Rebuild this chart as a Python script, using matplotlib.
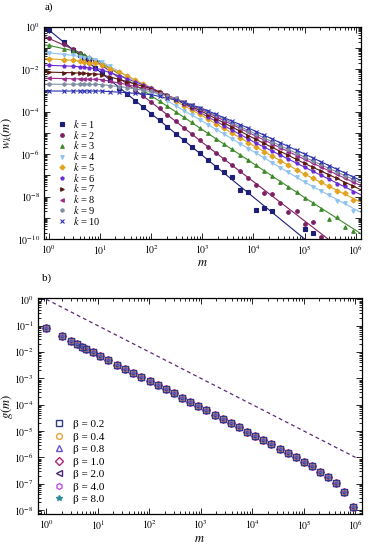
import numpy as np
import matplotlib
matplotlib.use("Agg")
import matplotlib.pyplot as plt
from matplotlib.ticker import LogLocator, FixedLocator, FuncFormatter, NullFormatter

plt.rcParams['font.family'] = ['Liberation Serif', 'DejaVu Serif']
plt.rcParams['mathtext.fontset'] = 'stix'

nan = np.nan

# ---- panel a) : simulation points (log10 of w_k) on the binned m grid ----
m_pts = [1, 2, 3, 4, 5, 6, 8, 11, 16, 24, 34, 49, 70, 101, 146, 209, 301, 432, 621, 892,
         1282, 1843, 2649, 3806, 5470, 7862, 11298, 16238, 23335, 33535, 48195, 69263,
         99540, 143050, 205589, 295461, 424620, 610250, 877000]

w1_pts = [-0.15, -0.74, -1.09, -1.34, -1.53, -1.68, -1.93, -2.20, -2.51, -2.87, -3.16, -3.48, -3.79,
          -4.09, -4.41, -4.72, -5.04, -5.35, -5.65, -5.96, -6.28, -6.59, -6.85, -7.1, -7.7, -7.78,
          -8.63, -8.55, -8.66, nan, nan, nan, -9.55, -9.73, nan, nan, nan, nan, nan]
w2_pts = [-0.55, -0.83, -1.06, -1.23, -1.36, -1.46, -1.62, -1.82, -2.11, -2.43, -2.70, -2.99, -3.28,
          -3.55, -3.85, -4.16, -4.46, -4.77, -5.05, -5.36, -5.65, -5.95, -6.23, -6.52, -6.82, -7.12,
          -7.45, -7.85, -7.9, -8.3, -8.75, -8.7, -9.3, -9.2, -9.9, nan, nan, nan, nan]
w3_pts = [-0.88, -1.04, -1.13, -1.25, -1.35, -1.43, -1.55, -1.71, -1.96, -2.24, -2.49, -2.75, -3.01,
          -3.25, -3.5, -3.75, -4.0, -4.27, -4.51, -4.77, -5.03, -5.28, -5.52, -5.78, -6.03, -6.29,
          -6.53, -6.79, -7.04, -7.3, -7.54, -7.79, -8.05, -8.3, -8.6, -9.05, -8.95, -9.45, -9.6]
w4_pts = [-1.23, -1.31, -1.35, -1.41, -1.46, -1.49, -1.55, -1.65, -1.87, -2.12, -2.33, -2.55, -2.79,
          -3.0, -3.24, -3.48, -3.72, -3.95, -4.16, -4.38, -4.61, -4.85, -5.07, -5.3, -5.52, -5.74,
          -5.95, -6.18, -6.41, -6.64, -6.86, -7.09, -7.32, -7.53, -7.72, -7.93, -8.2, -8.3, -8.7]
w5_pts = [-1.51, -1.55, -1.58, -1.63, -1.66, -1.69, -1.73, -1.81, -1.97, -2.15, -2.31, -2.51, -2.70,
          -2.88, -3.09, -3.3, -3.5, -3.72, -3.92, -4.13, -4.35, -4.58, -4.79, -5.01, -5.24, -5.46,
          -5.67, -5.88, -6.1, -6.32, -6.52, -6.73, -6.95, -7.14, -7.32, -7.51, -7.75, -7.85, -8.15]
w6_pts = [-1.82, -1.85, -1.86, -1.89, -1.92, -1.94, -1.97, -2.03, -2.17, -2.32, -2.45, -2.6, -2.74,
          -2.88, -3.06, -3.24, -3.42, -3.63, -3.83, -4.04, -4.25, -4.46, -4.66, -4.87, -5.08, -5.29,
          -5.48, -5.67, -5.86, -6.06, -6.24, -6.43, -6.62, -6.81, -6.99, -7.17, -7.4, -7.5, -7.8]
w7_pts = [-2.14, -2.16, -2.17, -2.19, -2.2, -2.21, -2.23, -2.27, -2.37, -2.49, -2.59, -2.7, -2.81,
          -2.92, -3.08, -3.24, -3.4, -3.59, -3.76, -3.94, -4.14, -4.34, -4.52, -4.73, -4.93, -5.13,
          -5.31, -5.5, -5.69, -5.88, -6.06, -6.25, -6.44, -6.62, -6.79, -6.97, -7.15, -7.38, -7.5]
w8_pts = [-2.43, -2.44, -2.45, -2.46, -2.46, -2.47, -2.47, -2.5, -2.57, -2.66, -2.73, -2.81, -2.9,
          -2.98, -3.11, -3.25, -3.38, -3.55, -3.7, -3.87, -4.05, -4.24, -4.42, -4.6, -4.79, -4.98,
          -5.16, -5.34, -5.53, -5.71, -5.88, -6.07, -6.25, -6.43, -6.6, -6.78, -6.96, -7.14, -7.31]
w9_pts = [-2.71, -2.71, -2.71, -2.71, -2.71, -2.71, -2.72, -2.73, -2.77, -2.82, -2.87, -2.93, -2.99,
          -3.05, -3.16, -3.27, -3.38, -3.54, -3.68, -3.83, -4.0, -4.18, -4.35, -4.53, -4.71, -4.89,
          -5.06, -5.24, -5.43, -5.61, -5.78, -5.97, -6.15, -6.33, -6.49, -6.67, -6.84, -7.02, -7.18]
w10_pts = [-3.03, -3.03, -3.03, -3.03, -3.03, -3.03, -3.03, -3.04, -3.06, -3.09, -3.11, -3.14, -3.17,
           -3.2, -3.28, -3.37, -3.45, -3.57, -3.69, -3.81, -3.96, -4.13, -4.28, -4.45, -4.61, -4.78,
           -4.94, -5.12, -5.29, -5.47, -5.64, -5.82, -6.0, -6.18, -6.35, -6.54, -6.72, -6.9, -7.07]

# ---- panel a) : theory curves (log10 of w_k) ----
m_line = [0.8, 1, 3, 10, 30, 100, 300, 1e3, 1e4, 1e5, 1.26e6]
w1_line = [0.04, -0.15, -1.09, -2.12, -3.06, -4.09, -5.03, -6.06, -8.03, -10.0, -12.17]
w2_line = [-0.45, -0.55, -1.06, -1.75, -2.6, -3.55, -4.45, -5.45, -7.3, -9.15, -11.2]
w3_line = [-0.86, -0.88, -1.13, -1.65, -2.4, -3.25, -4.0, -4.85, -6.45, -8.05, -9.75]
w4_line = [-1.22, -1.23, -1.35, -1.6, -2.25, -3.0, -3.72, -4.45, -5.88, -7.32, -8.75]
w5_line = [-1.5, -1.51, -1.58, -1.77, -2.25, -2.88, -3.5, -4.2, -5.6, -6.95, -8.27]
w6_line = [-1.81, -1.82, -1.86, -2.0, -2.4, -2.88, -3.42, -4.1, -5.42, -6.62, -7.92]
w7_line = [-2.14, -2.14, -2.17, -2.24, -2.55, -2.92, -3.4, -4.0, -5.25, -6.44, -7.68]
w8_line = [-2.43, -2.43, -2.45, -2.48, -2.7, -2.98, -3.38, -3.92, -5.1, -6.25, -7.49]
w9_line = [-2.71, -2.71, -2.71, -2.72, -2.85, -3.05, -3.38, -3.88, -5.0, -6.15, -7.36]
w10_line = [-3.03, -3.03, -3.03, -3.03, -3.1, -3.2, -3.45, -3.85, -4.88, -6.0, -7.25]

k_values = [1, 2, 3, 4, 5, 6, 7, 8, 9, 10]
k_colors = ['#1c1f78', '#7d1f63', '#3f8a2c', '#8ec2ef', '#e3a21f',
            '#6a2ad6', '#5a1a12', '#9b2a8c', '#7f8fa3', '#2b2fb0']
k_markers = ['s', 'o', '^', 'v', 'D', 'p', '>', '<', 'h', 'x']

# ---- panel b) ----
g_m = m_pts
g_vals = [-1.10, -1.39, -1.57, -1.70, -1.80, -1.89, -2.0, -2.15, -2.32, -2.48, -2.63, -2.78, -2.94,
          -3.1, -3.26, -3.41, -3.57, -3.74, -3.89, -4.05, -4.2, -4.39, -4.56, -4.71, -4.86, -5.03,
          -5.18, -5.34, -5.5, -5.67, -5.82, -6.0, -6.17, -6.33, -6.55, -6.73, -6.96, -7.3, -7.87]
ref_m = [1, 1e6]
ref_g = [1, 1e-6]
betas = ['0.2', '0.4', '0.8', '1.0', '2.0', '4.0', '8.0']
beta_colors = ['#2e3a8c', '#e8a33a', '#6a4ed8', '#b3237f', '#4b2778', '#c04fe0', '#2f8c99']
beta_markers = ['s', 'o', '^', 'D', '<', 'h', '*']

# tick decades shown on each axis
x_decades = [0, 1, 2, 3, 4, 5, 6]
ya_decades = [0, -1, -2, -3, -4, -5, -6, -7, -8, -9, -10]
yb_decades = [0, -1, -2, -3, -4, -5, -6, -7, -8]

w_pts = [w1_pts, w2_pts, w3_pts, w4_pts, w5_pts, w6_pts, w7_pts, w8_pts, w9_pts, w10_pts]
w_line = [w1_line, w2_line, w3_line, w4_line, w5_line, w6_line, w7_line, w8_line, w9_line, w10_line]

W, H = 369, 550
fig = plt.figure(figsize=(W / 100, H / 100), dpi=100)
ax1 = fig.add_axes([44.3 / W, 1 - 239 / H, 316.7 / W, 212.3 / H])
ax2 = fig.add_axes([38 / W, 1 - 514.3 / H, 323.7 / W, 216.3 / H])


def pow_label(v, pos):
    e = int(round(np.log10(v)))
    return f"$10^{{{e}}}$"


def even_label(v, pos):
    e = int(round(np.log10(v)))
    return f"$10^{{{e}}}$" if e % 2 == 0 else ""


def style_axis(ax, y_decades):
    ax.set_xscale('log')
    ax.set_yscale('log')
    ax.xaxis.set_major_locator(FixedLocator([10.0 ** e for e in x_decades]))
    ax.yaxis.set_major_locator(FixedLocator([10.0 ** e for e in y_decades]))
    for a in (ax.xaxis, ax.yaxis):
        a.set_minor_locator(LogLocator(base=10, subs=np.arange(2, 10), numticks=30))
        a.set_minor_formatter(NullFormatter())
    ax.xaxis.set_major_formatter(FuncFormatter(pow_label))
    ax.tick_params(which='both', direction='in', top=True, right=True, labelsize=7, width=0.6, pad=3)
    ax.tick_params(which='major', length=4)
    ax.tick_params(which='minor', length=2)
    for s in ax.spines.values():
        s.set_linewidth(0.9)


# panel a
for i, k in enumerate(k_values):
    ax1.plot(m_line, 10 ** np.array(w_line[i]), '-', color=k_colors[i], lw=0.8)
for i, k in enumerate(k_values):
    ax1.plot(m_pts, 10 ** np.array(w_pts[i]), linestyle='none', marker=k_markers[i],
             color=k_colors[i], ms=2.6 if k_markers[i] != 'x' else 3.5, mew=0.8,
             label=f"$k$ = {k}")
style_axis(ax1, ya_decades)
ax1.yaxis.set_major_formatter(FuncFormatter(even_label))
ax1.set_xlim(0.82, 1.26e6)
ax1.set_ylim(1e-10, 1)
ax1.set_xlabel("$m$", fontsize=9, labelpad=0)
ax1.set_ylabel("$w_k(m)$", fontsize=9)
ax1.yaxis.set_label_coords(-0.095, 0.5)
ax1.legend(loc='upper left', bbox_to_anchor=(0.025, 0.59), frameon=False, fontsize=7.5,
           handlelength=1.0, handletextpad=0.6, labelspacing=-0.12, borderaxespad=0)

# panel b
ax2.plot(ref_m, ref_g, '--', color='#5a2a7a', lw=0.9, dashes=(3, 2.5))
for i in reversed(range(len(betas))):
    filled = beta_markers[i] == '*'
    ax2.plot(g_m, 10 ** np.array(g_vals), linestyle='none', marker=beta_markers[i],
             color=beta_colors[i], mfc=beta_colors[i] if filled else 'none',
             ms=4.2, mew=1.0, label=f"β = {betas[i]}")
style_axis(ax2, yb_decades)
ax2.yaxis.set_major_formatter(FuncFormatter(pow_label))
ax2.set_xlim(0.69, 1.32e6)
ax2.set_ylim(10 ** -8.16, 10 ** 0.05)
ax2.set_xlabel("$m$", fontsize=9, labelpad=1)
ax2.set_ylabel("$g(m)$", fontsize=9)
ax2.yaxis.set_label_coords(-0.072, 0.5)
h2, l2 = ax2.get_legend_handles_labels()
ax2.legend(h2[::-1], l2[::-1], loc='upper left', bbox_to_anchor=(0.035, 0.46), frameon=False,
           fontsize=8, handlelength=1.0, handletextpad=0.7, labelspacing=0.25, borderaxespad=0)

fig.text(45 / W, 1 - 7.5 / H, "a)", fontsize=8, va='center')
fig.text(41.5 / W, 1 - 278.5 / H, "b)", fontsize=8, va='center')

fig.savefig("out.png", dpi=100)
